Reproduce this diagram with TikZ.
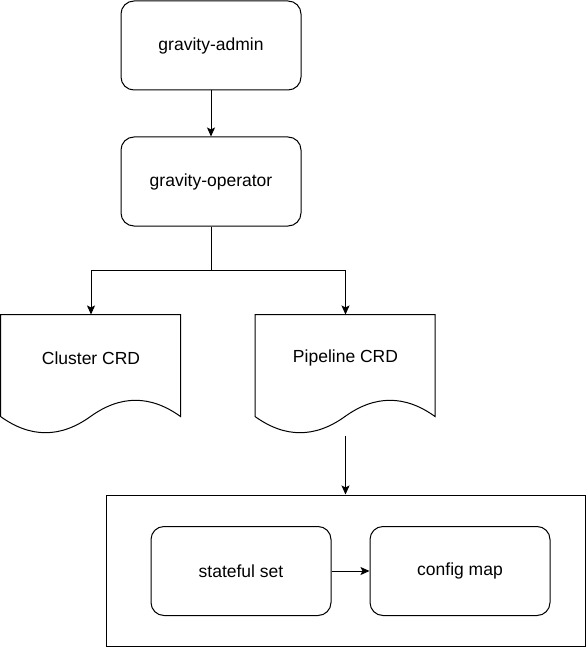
\documentclass[tikz,border=0pt]{standalone}
\usepackage{fontspec}
\setmainfont{Liberation Sans}
\usetikzlibrary{positioning,arrows.meta}

\begin{document}
\begin{tikzpicture}[x=1pt, y=1pt, line width=1pt, node distance=46pt,
	font=\fontsize{17.5}{21}\selectfont,
	proc/.style = {draw, rounded corners=13pt, minimum width=180pt, minimum height=89pt},
	doc/.style = {minimum width=180pt, minimum height=120pt, inner sep=0pt},
	frame/.style = {draw, minimum width=479pt, minimum height=151pt},
	arr/.style = {-{Stealth[length=9pt, width=8pt, inset=2pt]}}]
	\useasboundingbox (0,0) rectangle (587,-647);
	\node[proc] (admin) at (211,-45.5) {gravity-admin};
	\node[proc] (operator) [below=of admin] {gravity-operator};
	\node[doc] (cluster) at (91,-375) {};
	\node[doc] (pipeline) at (345.5,-375) {};
	\node (clusterlbl) at ([yshift=17pt]cluster.center) {Cluster CRD};
	\node (pipelinelbl) at ([yshift=17pt]pipeline.center) {Pipeline CRD};
	% document outlines with a wavy bottom
	\foreach \d in {cluster, pipeline}
		\draw[shift={(\d.north west)}] (0,0) -- (180,0) -- (180,-102)
			.. controls (150,-80.4) and (120,-80.4) .. (90,-102)
			.. controls (60,-123.6) and (30,-123.6) .. (0,-102) -- cycle;
	\node[frame] (box) at (345.5,-570.5) {};
	\node[proc] (sset) at (241,-571) {stateful set};
	\node[proc] (cmap) [right=38pt of sset] {config map};
	\draw[arr] (admin) -- (operator);
	\draw[arr] (operator.south) -- ++(0,-44) -| (cluster.north);
	\draw[arr] (operator.south) -- ++(0,-44) -| (pipeline.north);
	\draw[arr] (pipeline.south) -- (box.north);
	\draw[arr] (sset) -- (cmap);
\end{tikzpicture}
\end{document}
